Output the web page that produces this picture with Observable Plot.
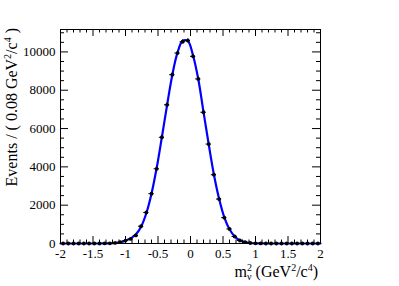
<!DOCTYPE html>
<html><head><meta charset="utf-8">
<script src="https://cdn.jsdelivr.net/npm/d3@7"></script>
<script src="https://cdn.jsdelivr.net/npm/@observablehq/plot@0.6"></script>
<style>
html,body{margin:0;padding:0;background:#fff;}
svg{display:block;}
svg text{font-family:'Liberation Serif','DejaVu Serif',serif;}
</style>
</head><body><div id="chart"></div>
<script>
// Bin centres (bin width 0.08 GeV^2/c^4)
const binCenters = [-1.96,-1.88,-1.80,-1.72,-1.64,-1.56,-1.48,-1.40,-1.32,-1.24,-1.16,-1.08,-1.00,-0.92,-0.84,-0.76,-0.68,-0.60,-0.52,-0.44,-0.36,-0.28,-0.20,-0.12,-0.04,0.04,0.12,0.20,0.28,0.36,0.44,0.52,0.60,0.68,0.76,0.84,0.92,1.00,1.08,1.16,1.24,1.32,1.40,1.48,1.56,1.64,1.72,1.80,1.88,1.96];
const counts = [0,0,0,0,0,0,0,1,3,10,30,75,155,240,420,900,1620,2600,3900,5545,7240,8810,9940,10530,10590,9770,8590,6850,5190,3590,2320,1350,760,365,156,68,25,8,2,1,0,0,0,0,0,0,0,0,0,0];
const binHalfWidth = 0.04;
// Fit curve
const fitX = [-2.00,-1.96,-1.88,-1.80,-1.72,-1.64,-1.56,-1.48,-1.40,-1.32,-1.24,-1.16,-1.08,-1.00,-0.92,-0.84,-0.76,-0.68,-0.60,-0.52,-0.44,-0.36,-0.28,-0.20,-0.12,-0.04,0.04,0.12,0.20,0.28,0.36,0.44,0.52,0.60,0.68,0.76,0.84,0.92,1.00,1.08,1.16,1.24,1.32,1.40,1.48,1.56,1.64,1.72,1.80,1.88,1.96,2.00];
const fitY = [0,0,0,0,0,0,0,0,1,3,9,26,65,145,265,480,880,1580,2600,3950,5560,7230,8800,9960,10580,10560,9800,8570,6870,5180,3600,2330,1360,740,370,165,70,27,9,3,1,0,0,0,0,0,0,0,0,0,0,0];
// Axes
const xDomain = [-2, 2];
const yDomain = [0, 11170];
const xMajorTicks = [-2,-1.5,-1,-0.5,0,0.5,1,1.5,2];
const xTickLabels = ["-2","-1.5","-1","-0.5","0","0.5","1","1.5","2"];
const xMinorTicks = [-1.9,-1.8,-1.7,-1.6,-1.4,-1.3,-1.2,-1.1,-0.9,-0.8,-0.7,-0.6,-0.4,-0.3,-0.2,-0.1,0.1,0.2,0.3,0.4,0.6,0.7,0.8,0.9,1.1,1.2,1.3,1.4,1.6,1.7,1.8,1.9];
const yMajorTicks = [0,2000,4000,6000,8000,10000];
const yTickLabels = ["0","2000","4000","6000","8000","10000"];
const yMinorTicks = [500,1000,1500,2500,3000,3500,4500,5000,5500,6500,7000,7500,8500,9000,9500,10500,11000];

const W = 399, H = 286, mL = 60, mR = 79, mT = 29, mB = 43;
const fh = H - mT - mB, fw = W - mL - mR;
const font = "'Liberation Serif','DejaVu Serif',serif";

const pts = binCenters.map((x, i) => ({x, y: counts[i], e: Math.sqrt(counts[i])}));
const fit = fitX.map((x, i) => ({x, y: fitY[i]}));

const plot = Plot.plot({
  width: W, height: H,
  marginLeft: mL, marginRight: mR, marginTop: mT, marginBottom: mB,
  style: `font-family:${font};font-size:13px;background:white;color:black;`,
  x: {domain: xDomain, label: null},
  y: {domain: yDomain, label: null},
  marks: [
    Plot.line(fit, {x: "x", y: "y", stroke: "#0000ff", strokeWidth: 2.2, curve: "catmull-rom"}),
    Plot.ruleX(pts, {x: "x", y1: d => d.y - d.e, y2: d => d.y + d.e, stroke: "black", strokeWidth: 1}),
    Plot.ruleY(pts, {y: "y", x1: d => d.x - binHalfWidth, x2: d => d.x + binHalfWidth, stroke: "black", strokeWidth: 1}),
    Plot.dot(pts, {x: "x", y: "y", r: 1.9, fill: "black", stroke: "none"}),
    // inward ticks, bottom and top
    Plot.tickX(xMajorTicks, {x: d => d, insetTop: fh - 7, stroke: "black"}),
    Plot.tickX(xMinorTicks, {x: d => d, insetTop: fh - 3.5, stroke: "black"}),
    Plot.tickX(xMajorTicks, {x: d => d, insetBottom: fh - 7, stroke: "black"}),
    Plot.tickX(xMinorTicks, {x: d => d, insetBottom: fh - 3.5, stroke: "black"}),
    // inward ticks, left and right
    Plot.tickY(yMajorTicks, {y: d => d, insetRight: fw - 8, stroke: "black"}),
    Plot.tickY(yMinorTicks, {y: d => d, insetRight: fw - 4, stroke: "black"}),
    Plot.tickY(yMajorTicks, {y: d => d, insetLeft: fw - 8, stroke: "black"}),
    Plot.tickY(yMinorTicks, {y: d => d, insetLeft: fw - 4, stroke: "black"}),
    Plot.axisX(xMajorTicks, {anchor: "bottom", tickSize: 0, tickPadding: 5, tickFormat: (d, i) => xTickLabels[i], label: null, fontSize: 13, fontFamily: font}),
    Plot.axisY(yMajorTicks, {anchor: "left", tickSize: 0, tickPadding: 5, tickFormat: (d, i) => yTickLabels[i], label: null, fontSize: 13, fontFamily: font}),
    Plot.frame({stroke: "black", strokeWidth: 1})
  ]
});
document.getElementById("chart").appendChild(plot);

const svg = d3.select(plot);
svg.selectAll("text").attr("font-family", font).style("font-family", font);
// x title: m²_ν (GeV²/c⁴)
const xt = svg.append("text")
  .attr("x", 318).attr("y", 277)
  .attr("text-anchor", "end")
  .attr("font-family", font).attr("font-size", 16).attr("fill", "black");
xt.append("tspan").text("m");
xt.append("tspan").attr("font-size", 10).attr("dy", -6).text("2");
xt.append("tspan").attr("font-size", 10).attr("dx", -5).attr("dy", 9).text("ν");
xt.append("tspan").attr("dy", -3).text(" (GeV");
xt.append("tspan").attr("font-size", 10).attr("dy", -6).text("2");
xt.append("tspan").attr("dy", 6).text("/c");
xt.append("tspan").attr("font-size", 10).attr("dy", -6).text("4");
xt.append("tspan").attr("dy", 6).text(")");

// y title: Events / ( 0.08 GeV²/c⁴ )
const yt = svg.append("text")
  .attr("transform", "translate(17,28) rotate(-90)")
  .attr("text-anchor", "end")
  .attr("font-family", font).attr("font-size", 16).attr("fill", "black");
yt.append("tspan").text("Events / ( 0.08 GeV");
yt.append("tspan").attr("font-size", 10).attr("dy", -6).text("2");
yt.append("tspan").attr("dy", 6).text("/c");
yt.append("tspan").attr("font-size", 10).attr("dy", -6).text("4");
yt.append("tspan").attr("dy", 6).text(" )");
</script>
</body></html>
